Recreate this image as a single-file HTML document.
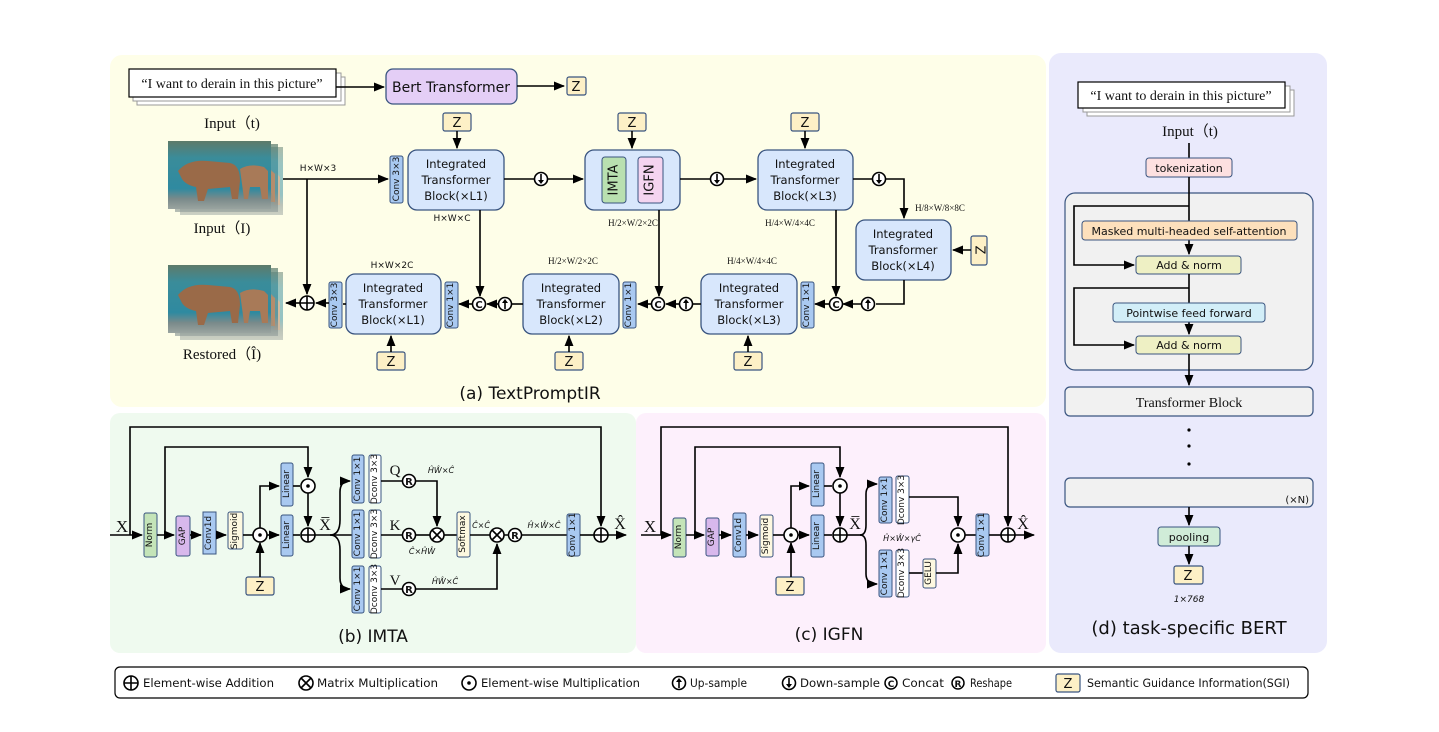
<!DOCTYPE html>
<html><head><meta charset="utf-8"><style>
html,body{margin:0;padding:0;background:#fff}
svg{display:block}
text{font-family:"DejaVu Sans","Liberation Sans",sans-serif;fill:#111}
.s{font-family:"Liberation Serif",serif}
.b{fill:#d8e7fc;stroke:#3a5580;stroke-width:1.3}
.cv{fill:#a9c9f1;stroke:#3a5580;stroke-width:1}
.wh{fill:#fff;stroke:#3a5580;stroke-width:1}
.z{fill:#fdf0c6;stroke:#3a5580;stroke-width:1.2}
.l{stroke:#000;stroke-width:1.6;fill:none}
.t{font-size:11.5px}
.v{font-size:9px}
</style></head><body>
<svg width="1439" height="732" viewBox="0 0 1439 732" xmlns="http://www.w3.org/2000/svg">
<defs>
<marker id="a" viewBox="0 0 10 10" refX="9" refY="5" markerWidth="7" markerHeight="7" orient="auto-start-reverse"><path d="M0,1 L10,5 L0,9 z" fill="#000"/></marker>
<g id="pl"><circle r="7" fill="#fff" stroke="#000" stroke-width="1.6"/><path d="M-7,0H7M0,-7V7" stroke="#000" stroke-width="1.6"/></g>
<g id="dt"><circle r="7" fill="#fff" stroke="#000" stroke-width="1.6"/><circle r="1.8" fill="#000"/></g>
<g id="tm"><circle r="7" fill="#fff" stroke="#000" stroke-width="1.6"/><path d="M-5,-5L5,5M5,-5L-5,5" stroke="#000" stroke-width="1.6"/></g>
<g id="up"><circle r="6.5" fill="#fff" stroke="#000" stroke-width="1.6"/><path d="M0,5V-2" stroke="#000" stroke-width="1.6"/><path d="M-3,-1L0,-5L3,-1z" fill="#000"/></g>
<g id="dn"><circle r="6.5" fill="#fff" stroke="#000" stroke-width="1.6"/><path d="M0,-5V2" stroke="#000" stroke-width="1.6"/><path d="M-3,1L0,5L3,1z" fill="#000"/></g>
<linearGradient id="img" x1="0" y1="0" x2="0" y2="1"><stop offset="0" stop-color="#5d7a6a"/><stop offset="0.25" stop-color="#3a8c9a"/><stop offset="0.7" stop-color="#2f8aa0"/><stop offset="0.85" stop-color="#7a8a8a"/><stop offset="1" stop-color="#9aa4a0"/></linearGradient>
<g id="bear"><rect width="103" height="68" fill="url(#img)"/><path d="M10,30 Q20,18 40,20 L62,22 Q72,24 72,40 L70,58 L64,58 L62,46 L40,48 L36,60 L30,60 L28,46 Q18,44 14,38 Z" fill="#9a6a48"/><path d="M72,28 Q82,22 96,26 L100,30 L100,58 L94,58 L92,46 L82,46 L80,58 L76,58 Z" fill="#a87a58"/></g>
</defs>

<rect x="110" y="55" width="936" height="352" rx="12" fill="#fefee8"/>
<rect x="110" y="413" width="526" height="240" rx="10" fill="#effaef"/>
<rect x="636" y="413" width="410" height="240" rx="10" fill="#fdf0fc"/>
<rect x="1049" y="53" width="278" height="600" rx="12" fill="#eaeafc"/>

<!-- ===== (a) ===== -->
<rect x="137" y="77" width="208" height="28" fill="#fff" stroke="#999"/>
<rect x="133" y="73" width="208" height="28" fill="#fff" stroke="#999"/>
<rect x="129" y="69" width="207" height="28" fill="#fff" stroke="#000" stroke-width="1.2"/>
<text x="232" y="88" class="s" font-size="14" text-anchor="middle">“I want to derain in this picture”</text>
<text x="232" y="128" class="s" font-size="15" text-anchor="middle">Input（t)</text>
<path class="l" d="M336,87H384" marker-end="url(#a)"/>
<rect x="386" y="69" width="131" height="35" rx="7" fill="#e4cef6" stroke="#3a5580" stroke-width="1.3"/>
<text x="451" y="92" font-size="14" text-anchor="middle">Bert Transformer</text>
<path class="l" d="M517,86H564" marker-end="url(#a)"/>
<rect class="z" x="567" y="77" width="19" height="18" rx="2"/><text x="576" y="91" font-size="13" text-anchor="middle">Z</text>

<use href="#bear" x="180" y="147" opacity="0.5"/>
<use href="#bear" x="175" y="144" opacity="0.7"/>
<use href="#bear" x="168" y="141"/>
<text x="222" y="233" class="s" font-size="15" text-anchor="middle">Input（I)</text>
<use href="#bear" x="180" y="272" opacity="0.5"/>
<use href="#bear" x="175" y="268" opacity="0.7"/>
<use href="#bear" x="168" y="265"/>
<text x="222" y="359" class="s" font-size="15" text-anchor="middle">Restored（Î)</text>

<path class="l" d="M283,179H388" marker-end="url(#a)"/>
<text x="318" y="171" font-size="9" text-anchor="middle">H×W×3</text>
<path class="l" d="M307,179V294" marker-end="url(#a)"/>
<use href="#pl" x="307" y="303"/>
<path class="l" d="M300,303H286" marker-end="url(#a)"/>

<rect class="cv" x="390" y="156" width="13" height="47" rx="2"/><text transform="translate(397,179) rotate(-90)" class="v" text-anchor="middle" dominant-baseline="central">Conv 3×3</text>
<rect class="b" x="408" y="150" width="96" height="60" rx="9"/>
<text x="456" y="168" class="t" text-anchor="middle">Integrated</text><text x="456" y="184" class="t" text-anchor="middle">Transformer</text><text x="456" y="200" class="t" text-anchor="middle">Block(×L1)</text>
<rect class="z" x="443" y="113" width="28" height="18" rx="2"/><text x="457" y="127" font-size="13" text-anchor="middle">Z</text>
<path class="l" d="M457,131V148" marker-end="url(#a)"/>
<text x="452" y="221" font-size="9" text-anchor="middle">H×W×C</text>
<path class="l" d="M504,179H534"/><use href="#dn" x="541" y="179"/><path class="l" d="M548,179H583" marker-end="url(#a)"/>

<rect class="b" x="585" y="150" width="95" height="60" rx="9"/>
<rect x="602" y="157" width="24" height="46" rx="3" fill="#b9e0b0" stroke="#3a5580"/>
<text transform="translate(614,180) rotate(-90)" font-size="13" text-anchor="middle" dominant-baseline="central">IMTA</text>
<rect x="638" y="157" width="25" height="46" rx="3" fill="#f4d4f0" stroke="#3a5580"/>
<text transform="translate(650,180) rotate(-90)" font-size="13" text-anchor="middle" dominant-baseline="central">IGFN</text>
<rect class="z" x="618" y="113" width="28" height="18" rx="2"/><text x="632" y="127" font-size="13" text-anchor="middle">Z</text>
<path class="l" d="M632,131V148" marker-end="url(#a)"/>
<text x="633" y="226" class="s" font-size="9" text-anchor="middle">H/2×W/2×2C</text>
<path class="l" d="M680,179H710"/><use href="#dn" x="717" y="179"/><path class="l" d="M724,179H756" marker-end="url(#a)"/>

<rect class="b" x="758" y="150" width="95" height="60" rx="9"/>
<text x="805" y="168" class="t" text-anchor="middle">Integrated</text><text x="805" y="184" class="t" text-anchor="middle">Transformer</text><text x="805" y="200" class="t" text-anchor="middle">Block(×L3)</text>
<rect class="z" x="791" y="113" width="28" height="18" rx="2"/><text x="805" y="127" font-size="13" text-anchor="middle">Z</text>
<path class="l" d="M805,131V148" marker-end="url(#a)"/>
<text x="790" y="226" class="s" font-size="9" text-anchor="middle">H/4×W/4×4C</text>
<path class="l" d="M853,179H872"/><use href="#dn" x="879" y="179"/><path class="l" d="M886,179H904V218" marker-end="url(#a)"/>
<text x="940" y="211" class="s" font-size="9" text-anchor="middle">H/8×W/8×8C</text>

<rect class="b" x="856" y="220" width="95" height="60" rx="9"/>
<text x="903" y="238" class="t" text-anchor="middle">Integrated</text><text x="903" y="254" class="t" text-anchor="middle">Transformer</text><text x="903" y="270" class="t" text-anchor="middle">Block(×L4)</text>
<rect class="z" x="971" y="236" width="16" height="29" rx="2"/><text transform="translate(979,250) rotate(90)" font-size="13" text-anchor="middle" dominant-baseline="central">Z</text>
<path class="l" d="M971,250H953" marker-end="url(#a)"/>
<path class="l" d="M904,280V304H876"/><use href="#up" x="868" y="304"/><path class="l" d="M861,304H843" marker-end="url(#a)"/>

<path class="l" d="M836,210V296" marker-end="url(#a)"/>
<circle cx="836" cy="304" r="6.5" fill="#fff" stroke="#000" stroke-width="1.6"/><text x="836" y="308" font-size="10" font-weight="bold" text-anchor="middle">C</text>
<path class="l" d="M829,304H815" marker-end="url(#a)"/>
<rect class="cv" x="801" y="282" width="13" height="46" rx="2"/><text transform="translate(807,305) rotate(-90)" class="v" text-anchor="middle" dominant-baseline="central">Conv 1×1</text>
<rect class="b" x="701" y="274" width="96" height="60" rx="9"/>
<text x="749" y="292" class="t" text-anchor="middle">Integrated</text><text x="749" y="308" class="t" text-anchor="middle">Transformer</text><text x="749" y="324" class="t" text-anchor="middle">Block(×L3)</text>
<text x="752" y="264" class="s" font-size="9" text-anchor="middle">H/4×W/4×4C</text>
<rect class="z" x="734" y="352" width="28" height="18" rx="2"/><text x="748" y="366" font-size="13" text-anchor="middle">Z</text>
<path class="l" d="M748,352V336" marker-end="url(#a)"/>
<path class="l" d="M701,304H693"/><use href="#up" x="686" y="304"/><path class="l" d="M679,304H666" marker-end="url(#a)"/>

<path class="l" d="M659,210V296" marker-end="url(#a)"/>
<circle cx="658" cy="304" r="6.5" fill="#fff" stroke="#000" stroke-width="1.6"/><text x="658" y="308" font-size="10" font-weight="bold" text-anchor="middle">C</text>
<path class="l" d="M651,304H638" marker-end="url(#a)"/>
<rect class="cv" x="623" y="282" width="13" height="46" rx="2"/><text transform="translate(629,305) rotate(-90)" class="v" text-anchor="middle" dominant-baseline="central">Conv 1×1</text>
<rect class="b" x="523" y="274" width="96" height="60" rx="9"/>
<text x="571" y="292" class="t" text-anchor="middle">Integrated</text><text x="571" y="308" class="t" text-anchor="middle">Transformer</text><text x="571" y="324" class="t" text-anchor="middle">Block(×L2)</text>
<text x="573" y="264" class="s" font-size="9" text-anchor="middle">H/2×W/2×2C</text>
<rect class="z" x="555" y="352" width="28" height="18" rx="2"/><text x="569" y="366" font-size="13" text-anchor="middle">Z</text>
<path class="l" d="M569,352V336" marker-end="url(#a)"/>
<path class="l" d="M523,304H512"/><use href="#up" x="505" y="304"/><path class="l" d="M498,304H487" marker-end="url(#a)"/>

<path class="l" d="M480,210V296" marker-end="url(#a)"/>
<circle cx="479" cy="304" r="6.5" fill="#fff" stroke="#000" stroke-width="1.6"/><text x="479" y="308" font-size="10" font-weight="bold" text-anchor="middle">C</text>
<path class="l" d="M472,304H459" marker-end="url(#a)"/>
<rect class="cv" x="445" y="282" width="13" height="46" rx="2"/><text transform="translate(451,305) rotate(-90)" class="v" text-anchor="middle" dominant-baseline="central">Conv 1×1</text>
<rect class="b" x="346" y="274" width="95" height="60" rx="9"/>
<text x="393" y="292" class="t" text-anchor="middle">Integrated</text><text x="393" y="308" class="t" text-anchor="middle">Transformer</text><text x="393" y="324" class="t" text-anchor="middle">Block(×L1)</text>
<text x="392" y="268" font-size="9" text-anchor="middle">H×W×2C</text>
<rect class="z" x="377" y="352" width="28" height="18" rx="2"/><text x="391" y="366" font-size="13" text-anchor="middle">Z</text>
<path class="l" d="M391,352V336" marker-end="url(#a)"/>
<path class="l" d="M346,304H343"/>
<rect class="cv" x="329" y="282" width="13" height="46" rx="2"/><text transform="translate(335,305) rotate(-90)" class="v" text-anchor="middle" dominant-baseline="central">Conv 3×3</text>
<path class="l" d="M329,303H316" marker-end="url(#a)"/>
<text x="530" y="399" font-size="17" text-anchor="middle">(a) TextPromptIR</text>

<!-- ===== (b) IMTA ===== -->
<text x="122" y="532" class="s" font-size="17" text-anchor="middle">X</text>
<path class="l" d="M110,535H142" marker-end="url(#a)"/>
<path class="l" d="M130,535V427H601V526" marker-end="url(#a)"/>
<rect x="144" y="513" width="13" height="44" rx="2" fill="#c4e4b8" stroke="#3a5580"/><text transform="translate(150,535) rotate(-90)" class="v" text-anchor="middle" dominant-baseline="central">Norm</text>
<path class="l" d="M157,535H174" marker-end="url(#a)"/>
<path class="l" d="M165,535V447H308V477" marker-end="url(#a)"/>
<rect x="176" y="516" width="14" height="40" rx="2" fill="#d8b8ec" stroke="#3a5580"/><text transform="translate(183,536) rotate(-90)" class="v" text-anchor="middle" dominant-baseline="central">GAP</text>
<path class="l" d="M190,535H201" marker-end="url(#a)"/>
<rect class="cv" x="203" y="512" width="13" height="42"/><text transform="translate(209,533) rotate(-90)" class="v" text-anchor="middle" dominant-baseline="central">Conv1d</text>
<path class="l" d="M216,535H226" marker-end="url(#a)"/>
<rect x="228" y="512" width="15" height="37" rx="2" fill="#fdf8e0" stroke="#3a5580"/><text transform="translate(235,531) rotate(-90)" class="v" text-anchor="middle" dominant-baseline="central">Sigmoid</text>
<path class="l" d="M243,535H253"/>
<use href="#dt" x="260" y="535"/>
<rect class="z" x="246" y="577" width="28" height="18" rx="2"/><text x="260" y="591" font-size="13" text-anchor="middle">Z</text>
<path class="l" d="M260,577V543" marker-end="url(#a)"/>
<path class="l" d="M260,528V486H279" marker-end="url(#a)"/>
<path class="l" d="M267,535H279" marker-end="url(#a)"/>
<rect class="cv" x="281" y="463" width="12" height="43" rx="2"/><text transform="translate(287,484) rotate(-90)" class="v" text-anchor="middle" dominant-baseline="central">Linear</text>
<rect class="cv" x="281" y="515" width="12" height="41" rx="2"/><text transform="translate(287,535) rotate(-90)" class="v" text-anchor="middle" dominant-baseline="central">Linear</text>
<path class="l" d="M293,486H300"/><use href="#dt" x="308" y="486"/>
<path class="l" d="M308,493V526" marker-end="url(#a)"/>
<path class="l" d="M293,535H300"/><use href="#pl" x="308" y="535"/>
<text x="325" y="530" class="s" font-size="16" text-anchor="middle">X̅</text>
<path class="l" d="M315,535H352"/>
<path class="l" d="M330,535Q340,535 340,520V492Q340,481 350,481" marker-end="url(#a)"/>
<path class="l" d="M330,535Q340,535 340,550V578Q340,589 350,589" marker-end="url(#a)"/>
<rect class="cv" x="352" y="455" width="12" height="48" rx="2"/><text transform="translate(358,479) rotate(-90)" class="v" text-anchor="middle" dominant-baseline="central">Conv 1×1</text>
<rect class="wh" x="369" y="455" width="12" height="48" rx="2"/><text transform="translate(375,479) rotate(-90)" class="v" text-anchor="middle" dominant-baseline="central">Dconv 3×3</text>
<rect class="cv" x="352" y="510" width="12" height="48" rx="2"/><text transform="translate(358,534) rotate(-90)" class="v" text-anchor="middle" dominant-baseline="central">Conv 1×1</text>
<rect class="wh" x="369" y="510" width="12" height="48" rx="2"/><text transform="translate(375,534) rotate(-90)" class="v" text-anchor="middle" dominant-baseline="central">Dconv 3×3</text>
<rect class="cv" x="352" y="566" width="12" height="47" rx="2"/><text transform="translate(358,589) rotate(-90)" class="v" text-anchor="middle" dominant-baseline="central">Conv 1×1</text>
<rect class="wh" x="369" y="566" width="12" height="47" rx="2"/><text transform="translate(375,589) rotate(-90)" class="v" text-anchor="middle" dominant-baseline="central">Dconv 3×3</text>
<text x="395" y="475" class="s" font-size="15" text-anchor="middle">Q</text>
<text x="395" y="530" class="s" font-size="15" text-anchor="middle">K</text>
<text x="395" y="585" class="s" font-size="15" text-anchor="middle">V</text>
<path class="l" d="M381,481H402M381,535H402M381,589H402"/>
<g font-size="10" font-weight="bold" text-anchor="middle">
<circle cx="409" cy="481" r="6.5" fill="#fff" stroke="#000" stroke-width="1.6"/><text x="409" y="485">R</text>
<circle cx="409" cy="535" r="6.5" fill="#fff" stroke="#000" stroke-width="1.6"/><text x="409" y="539">R</text>
<circle cx="409" cy="589" r="6.5" fill="#fff" stroke="#000" stroke-width="1.6"/><text x="409" y="593">R</text>
<circle cx="515" cy="535" r="6.5" fill="#fff" stroke="#000" stroke-width="1.6"/><text x="515" y="539">R</text>
</g>
<path class="l" d="M416,481H437V526" marker-end="url(#a)"/>
<path class="l" d="M416,535H430"/><use href="#tm" x="437" y="535"/>
<text x="441" y="473" font-size="8" font-style="italic" text-anchor="middle">ĤŴ×Ĉ</text>
<text x="422" y="554" font-size="8" font-style="italic" text-anchor="middle">Ĉ×ĤŴ</text>
<text x="445" y="584" font-size="8" font-style="italic" text-anchor="middle">ĤŴ×Ĉ</text>
<path class="l" d="M444,535H457"/>
<rect x="457" y="512" width="13" height="45" rx="2" fill="#fdf8e0" stroke="#3a5580"/><text transform="translate(463,534) rotate(-90)" class="v" text-anchor="middle" dominant-baseline="central">Softmax</text>
<text x="481" y="528" font-size="8" font-style="italic" text-anchor="middle">Ĉ×Ĉ</text>
<path class="l" d="M470,535H490"/><use href="#tm" x="497" y="535"/>
<path class="l" d="M416,589H497V544" marker-end="url(#a)"/>
<path class="l" d="M504,535H508M522,535H567"/>
<text x="544" y="528" font-size="8" font-style="italic" text-anchor="middle">Ĥ×Ŵ×Ĉ</text>
<rect class="cv" x="567" y="514" width="13" height="42" rx="2"/><text transform="translate(573,535) rotate(-90)" class="v" text-anchor="middle" dominant-baseline="central">Conv 1×1</text>
<path class="l" d="M580,535H594"/><use href="#pl" x="601" y="535"/>
<path class="l" d="M608,535H626" marker-end="url(#a)"/>
<text x="620" y="529" class="s" font-size="16" text-anchor="middle">X̂</text>
<text x="373" y="642" font-size="17" text-anchor="middle">(b) IMTA</text>

<!-- ===== (c) IGFN ===== -->
<text x="650" y="532" class="s" font-size="17" text-anchor="middle">X</text>
<path class="l" d="M641,535H671" marker-end="url(#a)"/>
<path class="l" d="M661,535V427H1008V526" marker-end="url(#a)"/>
<rect x="673" y="518" width="13" height="39" rx="2" fill="#c4e4b8" stroke="#3a5580"/><text transform="translate(679,537) rotate(-90)" class="v" text-anchor="middle" dominant-baseline="central">Norm</text>
<path class="l" d="M686,535H704" marker-end="url(#a)"/>
<path class="l" d="M695,535V447H840V477" marker-end="url(#a)"/>
<rect x="706" y="518" width="13" height="38" rx="2" fill="#d8b8ec" stroke="#3a5580"/><text transform="translate(712,537) rotate(-90)" class="v" text-anchor="middle" dominant-baseline="central">GAP</text>
<path class="l" d="M719,535H731" marker-end="url(#a)"/>
<rect class="cv" x="733" y="513" width="13" height="44" rx="2"/><text transform="translate(739,535) rotate(-90)" class="v" text-anchor="middle" dominant-baseline="central">Conv1d</text>
<path class="l" d="M746,535H758" marker-end="url(#a)"/>
<rect x="760" y="515" width="13" height="42" rx="2" fill="#fdf8e0" stroke="#3a5580"/><text transform="translate(766,536) rotate(-90)" class="v" text-anchor="middle" dominant-baseline="central">Sigmoid</text>
<path class="l" d="M773,535H784"/><use href="#dt" x="791" y="535"/>
<rect class="z" x="776" y="577" width="28" height="18" rx="2"/><text x="790" y="591" font-size="13" text-anchor="middle">Z</text>
<path class="l" d="M791,577V543" marker-end="url(#a)"/>
<path class="l" d="M791,528V486H809" marker-end="url(#a)"/>
<path class="l" d="M798,535H809" marker-end="url(#a)"/>
<rect class="cv" x="811" y="463" width="13" height="43" rx="2"/><text transform="translate(817,484) rotate(-90)" class="v" text-anchor="middle" dominant-baseline="central">Linear</text>
<rect class="cv" x="811" y="515" width="13" height="42" rx="2"/><text transform="translate(817,536) rotate(-90)" class="v" text-anchor="middle" dominant-baseline="central">Linear</text>
<path class="l" d="M824,486H832"/><use href="#dt" x="840" y="486"/>
<path class="l" d="M840,493V526" marker-end="url(#a)"/>
<path class="l" d="M824,535H832"/><use href="#pl" x="840" y="535"/>
<text x="855" y="529" class="s" font-size="16" text-anchor="middle">X̅</text>
<path class="l" d="M847,535H862"/>
<path class="l" d="M860,535Q866,535 866,525V494Q866,484 877,484" marker-end="url(#a)"/>
<path class="l" d="M860,535Q866,535 866,545V574Q866,584 877,584" marker-end="url(#a)"/>
<text x="902" y="541" font-size="8" font-style="italic" text-anchor="middle">Ĥ×Ŵ×γĈ</text>
<rect class="cv" x="879" y="477" width="13" height="46" rx="2"/><text transform="translate(885,500) rotate(-90)" class="v" text-anchor="middle" dominant-baseline="central">Conv 1×1</text>
<rect class="wh" x="896" y="476" width="13" height="47" rx="2"/><text transform="translate(902,500) rotate(-90)" class="v" text-anchor="middle" dominant-baseline="central">Dconv 3×3</text>
<rect class="cv" x="879" y="550" width="13" height="47" rx="2"/><text transform="translate(885,573) rotate(-90)" class="v" text-anchor="middle" dominant-baseline="central">Conv 1×1</text>
<rect class="wh" x="896" y="550" width="13" height="47" rx="2"/><text transform="translate(902,573) rotate(-90)" class="v" text-anchor="middle" dominant-baseline="central">Dconv 3×3</text>
<path class="l" d="M909,573H923"/>
<rect x="923" y="559" width="13" height="29" rx="2" fill="#fdf8e0" stroke="#3a5580"/><text transform="translate(929,573) rotate(-90)" class="v" text-anchor="middle" dominant-baseline="central">GELU</text>
<path class="l" d="M909,497H958V526" marker-end="url(#a)"/>
<path class="l" d="M936,573H958V544" marker-end="url(#a)"/>
<use href="#dt" x="958" y="535"/>
<path class="l" d="M965,535H976"/>
<rect class="cv" x="976" y="514" width="13" height="42" rx="2"/><text transform="translate(982,535) rotate(-90)" class="v" text-anchor="middle" dominant-baseline="central">Conv 1×1</text>
<path class="l" d="M989,535H1001"/><use href="#pl" x="1008" y="535"/>
<path class="l" d="M1015,535H1034" marker-end="url(#a)"/>
<text x="1023" y="529" class="s" font-size="16" text-anchor="middle">X̂</text>
<text x="829" y="640" font-size="17" text-anchor="middle">(c) IGFN</text>

<!-- ===== (d) BERT ===== -->
<rect x="1087" y="90" width="207" height="26" fill="#fff" stroke="#999"/>
<rect x="1083" y="86" width="207" height="26" fill="#fff" stroke="#999"/>
<rect x="1078" y="82" width="207" height="26" fill="#fff" stroke="#000" stroke-width="1.2"/>
<text x="1181" y="100" class="s" font-size="14" text-anchor="middle">“I want to derain in this picture”</text>
<text x="1190" y="136" class="s" font-size="15" text-anchor="middle">Input（t)</text>
<path class="l" d="M1189,143V158"/>
<rect x="1146" y="158" width="86" height="19" rx="3" fill="#fde0e0" stroke="#3a5580"/>
<text x="1189" y="172" font-size="11" text-anchor="middle">tokenization</text>
<rect x="1065" y="193" width="248" height="177" rx="10" fill="#f1f1f1" stroke="#3a5580" stroke-width="1.2"/>
<path class="l" d="M1189,177V254" marker-end="url(#a)"/>
<path class="l" d="M1189,206H1074V265H1134" marker-end="url(#a)"/>
<rect x="1082" y="221" width="215" height="19" rx="3" fill="#fde0bc" stroke="#3a5580"/>
<text x="1189" y="235" font-size="11" text-anchor="middle">Masked multi-headed self-attention</text>
<rect x="1136" y="256" width="105" height="18" rx="3" fill="#eef0c4" stroke="#3a5580"/>
<text x="1189" y="269" font-size="11" text-anchor="middle">Add &amp; norm</text>
<path class="l" d="M1189,274V334" marker-end="url(#a)"/>
<path class="l" d="M1189,288H1074V345H1134" marker-end="url(#a)"/>
<rect x="1113" y="303" width="152" height="19" rx="3" fill="#d2eef8" stroke="#3a5580"/>
<text x="1189" y="317" font-size="11" text-anchor="middle">Pointwise feed forward</text>
<rect x="1136" y="336" width="105" height="18" rx="3" fill="#eef0c4" stroke="#3a5580"/>
<text x="1189" y="349" font-size="11" text-anchor="middle">Add &amp; norm</text>
<path class="l" d="M1189,354V385" marker-end="url(#a)"/>
<rect x="1065" y="387" width="248" height="29" rx="5" fill="#f1f1f1" stroke="#3a5580" stroke-width="1.2"/>
<text x="1189" y="407" class="s" font-size="14" text-anchor="middle">Transformer Block</text>
<circle cx="1189" cy="430" r="1.6"/><circle cx="1189" cy="446" r="1.6"/><circle cx="1189" cy="464" r="1.6"/>
<rect x="1065" y="478" width="248" height="29" rx="5" fill="#f1f1f1" stroke="#3a5580" stroke-width="1.2"/>
<text x="1309" y="503" font-size="10" text-anchor="end">(×N)</text>
<path class="l" d="M1189,507V525" marker-end="url(#a)"/>
<rect x="1158" y="527" width="62" height="19" rx="3" fill="#d0ecd8" stroke="#3a5580"/>
<text x="1189" y="541" font-size="11" text-anchor="middle">pooling</text>
<path class="l" d="M1189,546V564" marker-end="url(#a)"/>
<rect class="z" x="1174" y="566" width="29" height="18" rx="2"/><text x="1188" y="580" font-size="13" text-anchor="middle">Z</text>
<text x="1189" y="602" font-size="9" font-style="italic" text-anchor="middle">1×768</text>
<text x="1189" y="634" font-size="18" text-anchor="middle">(d) task-specific BERT</text>

<!-- legend -->
<rect x="115" y="667" width="1193" height="31" rx="5" fill="#fff" stroke="#000" stroke-width="1.2"/>
<g font-size="11.5">
<use href="#pl" x="131" y="683"/><text x="143" y="687" textLength="131" lengthAdjust="spacingAndGlyphs">Element-wise Addition</text>
<use href="#tm" x="306" y="683"/><text x="317" y="687" textLength="121" lengthAdjust="spacingAndGlyphs">Matrix Multiplication</text>
<use href="#dt" x="469" y="683"/><text x="481" y="687" textLength="159" lengthAdjust="spacingAndGlyphs">Element-wise Multiplication</text>
<use href="#up" x="679" y="683"/><text x="690" y="687" textLength="57" lengthAdjust="spacingAndGlyphs">Up-sample</text>
<use href="#dn" x="789" y="683"/><text x="800" y="687" textLength="80" lengthAdjust="spacingAndGlyphs">Down-sample</text>
<circle cx="891" cy="683" r="6" fill="#fff" stroke="#000" stroke-width="1.5"/><text x="891" y="687" font-size="9" font-weight="bold" text-anchor="middle">C</text><text x="902" y="687" textLength="42" lengthAdjust="spacingAndGlyphs">Concat</text>
<circle cx="958" cy="683" r="6" fill="#fff" stroke="#000" stroke-width="1.5"/><text x="958" y="687" font-size="9" font-weight="bold" text-anchor="middle">R</text><text x="970" y="687" textLength="42" lengthAdjust="spacingAndGlyphs">Reshape</text>
<rect class="z" x="1056" y="674" width="24" height="18" rx="2"/><text x="1068" y="688" font-size="13" text-anchor="middle">Z</text>
<text x="1087" y="687" textLength="203" lengthAdjust="spacingAndGlyphs">Semantic Guidance Information(SGI)</text>
</g>
</svg>
</body></html>
